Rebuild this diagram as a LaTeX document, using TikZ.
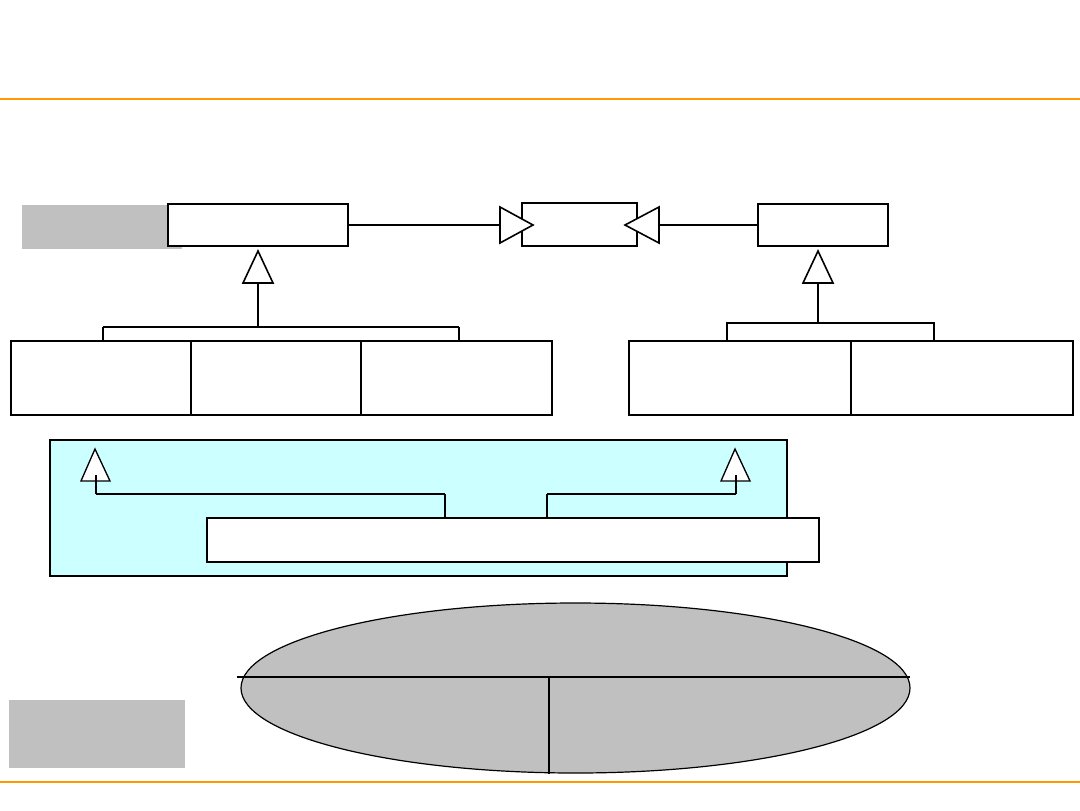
\documentclass[tikz,border=0pt]{standalone}
\usetikzlibrary{fit,shapes.geometric}
\newdimen\pxu \pxu=0.75pt
\definecolor{orangeline}{HTML}{FF9900}
\definecolor{panelgray}{HTML}{C0C0C0}
\definecolor{panelcyan}{HTML}{CCFFFF}
\tikzset{
  thinbox/.style={draw=black, line width=0.9pt, fill=white, inner sep=0pt},
  thickbox/.style={draw=black, line width=1.6pt, fill=white, inner sep=0pt},
  graybox/.style={fill=panelgray, draw=none, inner sep=0pt},
  conn/.style={draw=black, line width=0.9pt},
  thickconn/.style={draw=black, line width=1.6pt},
  tri/.style={draw=black, line width=1.2pt, fill=white, line join=miter},
  rule/.style={draw=orangeline, line width=1.6pt}
}
\begin{document}
\begin{tikzpicture}[x=0.75pt, y=-0.75pt]
\useasboundingbox (0,0) rectangle (1080,810);
\fill[white] (0,0) rectangle (1080,810);
% orange rules
\coordinate (r1a) at (0,99); \coordinate (r1b) at (1080,99);
\coordinate (r2a) at (0,782); \coordinate (r2b) at (1080,782);
\draw[rule] (r1a) -- (r1b);
\draw[rule] (r2a) -- (r2b);

% top-left gray label
\node[graybox, fit={(22,205) (182,249)}] (g1) {};
% top boxes
\node[thinbox, fit={(168,204) (348,246)}] (A) {};
\node[thinbox, fit={(522,203) (637,246)}] (B) {};
\node[thinbox, fit={(758,204) (888,246)}] (C) {};

% A -> B realization triangle
\coordinate (tAB) at (500,225);
\draw[conn] (A.east) -- (tAB);
\draw[tri] (500,207) -- (533,225) -- (500,243) -- cycle;
% C -> B
\coordinate (tCB) at (659,225);
\draw[conn] (C.west) -- (tCB);
\draw[tri] (659,207) -- (625,225) -- (659,243) -- cycle;

% generalization under A
\draw[tri] (258,251) -- (273,283) -- (243,283) -- cycle;
\coordinate (ja) at (258,283);
\coordinate (jb) at (258,327);
\draw[conn] (ja) -- (jb);

% left row of boxes
\node[thickbox, fit={(11,341) (191,415)}] (L1) {};
\node[thickbox, fit={(191,341) (361,415)}] (L2) {};
\node[thickbox, fit={(361,341) (552,415)}] (L3) {};
\coordinate (bl) at (103,327);
\coordinate (br) at (459,327);
\draw[conn] (bl) -- (br);
\draw[conn] (bl) -- (bl |- L1.north);
\draw[thickconn] (br) -- (br |- L3.north);

% generalization under C
\draw[tri] (818,251) -- (833,283) -- (803,283) -- cycle;
\coordinate (jc) at (818,283);
\node[thickbox, fit={(727,323) (934,341)}] (Cbar) {};
\draw[conn] (jc) -- (jc |- Cbar.north);
% right row of boxes
\node[thickbox, fit={(629,341) (851,415)}] (R1) {};
\node[thickbox, fit={(851,341) (1073,415)}] (R2) {};

% cyan panel
\node[draw=black, line width=1.6pt, fill=panelcyan, inner sep=0pt, fit={(50,440) (787,576)}] (P) {};
\node[thickbox, fit={(207,518) (819,562)}] (W) {};
\draw[tri, line width=1pt] (95,449) -- (110,481) -- (81,481) -- cycle;
\draw[tri, line width=1pt] (735,449) -- (750,481) -- (721,481) -- cycle;
\coordinate (pl1) at (96,475);
\coordinate (pl2) at (96,494);
\coordinate (pl3) at (445,494);
\coordinate (pr1) at (736,475);
\coordinate (pr2) at (736,494);
\coordinate (pr3) at (547,494);
\draw[conn] (pl1) -- (pl2);
\draw[thickconn] (pl2) -- (pl3);
\draw[conn] (pl3) -- (pl3 |- W.north);
\draw[conn] (pr1) -- (pr2);
\draw[thickconn] (pr2) -- (pr3);
\draw[conn] (pr3) -- (pr3 |- W.north);

% ellipse
\node[ellipse, draw=black, line width=0.9pt, fill=panelgray, inner sep=0pt,
      minimum width=669\pxu, minimum height=170\pxu] (E) at (575.5,688) {};
\coordinate (eh1) at (237,677);
\coordinate (eh2) at (910,677);
\coordinate (ev1) at (549,677);
\coordinate (ev2) at (549,774);
\draw[thickconn] (eh1) -- (eh2);
\draw[conn] (ev1) -- (ev2);

% bottom-left gray label
\node[graybox, fit={(9,700) (185,768)}] (g2) {};
\end{tikzpicture}
\end{document}
